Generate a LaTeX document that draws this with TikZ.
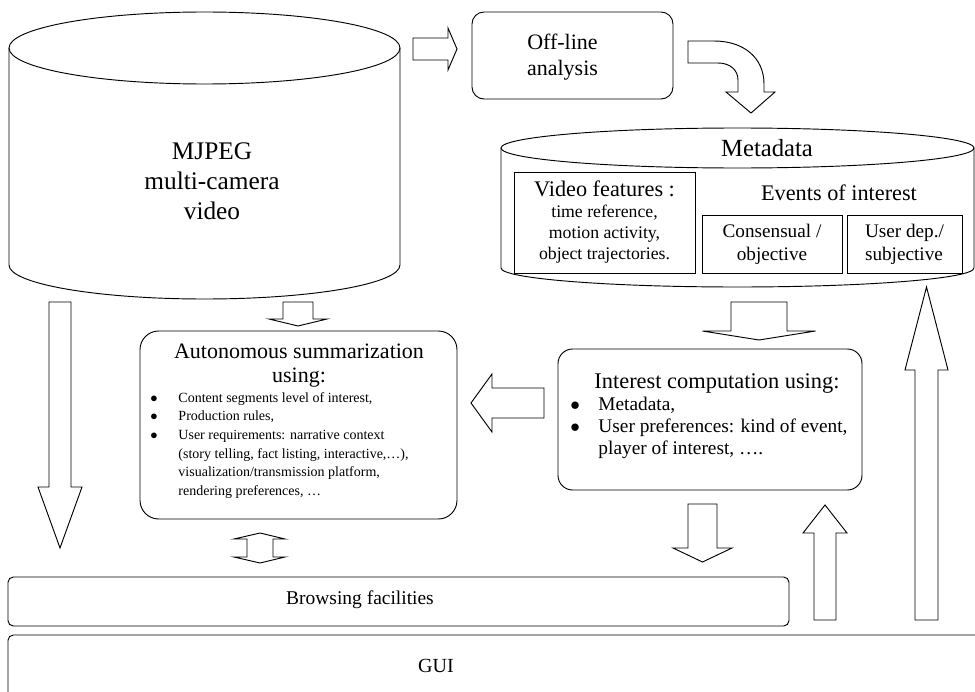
\documentclass[tikz,border=0pt]{standalone}
\usepackage{fontspec}
\setmainfont{Liberation Serif}
\usetikzlibrary{positioning}

\tikzset{
  box/.style={draw, rounded corners=9pt, inner sep=0pt, align=center},
  sqbox/.style={draw, inner sep=0pt, align=center},
  txt/.style={inner sep=0pt, align=center},
  blockarrow/.style={draw, fill=white, line join=miter},
}

% vertical block arrow: x, half shaft, half head, start y, head base y, tip y
\newcommand{\vblock}[6]{%
  \draw[blockarrow] ({#1-#2},#4) -- ({#1-#2},#5) -- ({#1-#3},#5) -- (#1,#6)
    -- ({#1+#3},#5) -- ({#1+#2},#5) -- ({#1+#2},#4) -- cycle;}
% horizontal block arrow: y, half shaft, half head, start x, head base x, tip x
\newcommand{\hblock}[6]{%
  \draw[blockarrow] (#4,{#1-#2}) -- (#5,{#1-#2}) -- (#5,{#1-#3}) -- (#6,#1)
    -- (#5,{#1+#3}) -- (#5,{#1+#2}) -- (#4,{#1+#2}) -- cycle;}
\newcommand{\bul}{\makebox[21pt][l]{$\bullet$}}

\begin{document}
\begin{tikzpicture}[x=0.75pt, y=-0.75pt, line width=0.7pt]
\useasboundingbox (0,0) rectangle (975,692);

% video store
\draw (9,48) -- (9,265) arc[start angle=180, end angle=0, x radius=195.5, y radius=34] -- (400,48);
\draw (204.5,48) ellipse [x radius=195.5, y radius=36];
\node[txt, font=\fontsize{19}{22.5}\selectfont] (video) at (212,181) {MJPEG\\multi-camera\\video};

% off-line analysis
\node[box, minimum width=150.75pt, minimum height=65.25pt] (offline) at (572.5,55.5) {};
\node[txt, font=\fontsize{16.5}{19.5}\selectfont] (offlinetext) at (562.5,57) {Off-line\\analysis};

% metadata store
\draw (501,148) -- (501,268) arc[start angle=180, end angle=0, x radius=236.5, y radius=19] -- (974,148);
\draw (737.5,148) ellipse [x radius=236.5, y radius=20];
\node[txt, font=\fontsize{18.5}{20}\selectfont] (meta) at (767,148) {Metadata};
\node[sqbox, minimum width=135.75pt, minimum height=75.75pt, font=\fontsize{13.3}{15.75}\selectfont] (vf) at (604.5,222.5)
  {{\fontsize{16.7}{15.75}\selectfont Video features :}\\time reference,\\motion activity,\\object trajectories.};
\node[txt, font=\fontsize{16.7}{18}\selectfont] (events) at (839,193) {Events of interest};
\node[sqbox, minimum width=105pt, minimum height=43.5pt, font=\fontsize{14.4}{17.25}\selectfont] (cons) at (772,244) {Consensual /\\objective};
\node[sqbox, minimum width=86.25pt, minimum height=43.5pt, align=left, font=\fontsize{14.4}{17.25}\selectfont] (udep) at (904.5,244) {User dep./\\subjective};

% autonomous summarization
\node[box, rounded corners=14pt, minimum width=237.75pt, minimum height=141pt] (auto) at (298.5,425) {};
\node[txt, anchor=north, font=\fontsize{16.5}{18.5}\selectfont] (autotitle) at (299,343) {Autonomous summarization\\using:};
\node[txt, anchor=north west, align=left, font=\fontsize{10.5}{14}\selectfont] (autolist) at (150,392)
  {\bul Content segments level of interest,\\
   \bul Production rules,\\
   \bul User requirements: narrative context\\
   \hspace*{21pt}(story telling, fact listing, interactive,\dots),\\
   \hspace*{21pt}visualization/transmission platform,\\
   \hspace*{21pt}rendering preferences, \dots};

% interest computation
\node[box, rounded corners=11pt, minimum width=228pt, minimum height=105.75pt] (interest) at (710,419.5) {};
\node[txt, anchor=north, font=\fontsize{16.8}{18}\selectfont] (interesttitle) at (717,373) {Interest computation using:};
\node[txt, anchor=north west, align=left, font=\fontsize{14.5}{16.2}\selectfont] (interestlist) at (570,397)
  {\bul Metadata,\\
   \bul User preferences: kind of event,\\
   \hspace*{21pt}player of interest, \dots.};

% browsing and GUI
\node[box, rounded corners=4pt, minimum width=585.75pt, minimum height=36.75pt] (browse) at (398.5,601.5) {};
\node[txt, font=\fontsize{14.6}{16}\selectfont] (browsetext) at (360,600) {Browsing facilities};
\node[box, rounded corners=4pt, minimum width=744pt, minimum height=60pt] (gui) at (504,675) {};
\node[txt, font=\fontsize{15}{16}\selectfont] (guitext) at (436,666) {GUI};

% block arrows
\hblock{49}{11}{21}{413}{448}{457}
\draw[blockarrow] (688,41) -- (714,41) .. controls (744,41) and (764,58) .. (764,84) -- (764,92)
  -- (775,92) -- (751,113) -- (726,92) -- (738,92) -- (738,80) .. controls (738,70) and (730,63) .. (718,63)
  -- (688,63) -- cycle;
\vblock{298}{15}{29}{302}{319}{326}
\vblock{60}{11}{22}{302}{487}{548}
\vblock{759}{28}{56.5}{302}{331}{340}
\hblock{403}{15}{29}{544}{492}{471}
\vblock{702.5}{14.5}{29.5}{504}{548}{562}
\vblock{825}{11}{22}{620}{533}{505}
\vblock{926.5}{11.5}{21.5}{620}{370}{287}
\draw[blockarrow] (260,533) -- (285,539) -- (273,539) -- (273,557) -- (285,557) -- (260,563)
  -- (234,557) -- (247,557) -- (247,539) -- (234,539) -- cycle;
\end{tikzpicture}
\end{document}
